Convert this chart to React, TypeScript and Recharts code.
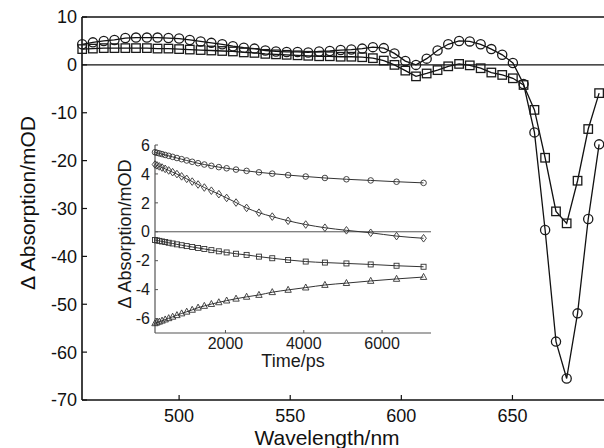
import React from 'react';
import { LineChart, Line, XAxis, YAxis, ReferenceLine } from 'recharts';

// main spectrum (wavelength in nm, signal in mOD)
const wavelengths = [
  456.4, 461.2, 466.1, 470.9, 475.8, 480.6, 485.5, 490.3, 495.2, 500.0,
  504.8, 509.7, 514.5, 519.4, 524.2, 529.1, 533.9, 538.8, 543.6, 548.4,
  553.3, 558.1, 563.0, 567.8, 572.7, 577.5, 582.4, 587.2, 592.1, 596.9,
  601.8, 606.6, 611.4, 616.3, 621.1, 626.0, 630.8, 635.7, 640.5, 645.4,
  650.2, 655.0, 659.9, 664.7, 669.6, 674.4, 679.3, 684.1, 689.0,
];
const circleSpectrum = [
  4.3, 4.7, 5.0, 5.2, 5.6, 5.7, 5.7, 5.7, 5.6, 5.5,
  5.2, 4.9, 4.6, 4.3, 3.9, 3.6, 3.4, 3.0, 2.8, 2.7,
  2.7, 2.6, 2.8, 2.9, 3.1, 3.2, 3.4, 3.7, 3.5, 2.4,
  0.8, 0.0, 1.3, 3.0, 4.3, 5.0, 4.9, 4.3, 3.3, 2.1,
  0.4, -4.0, -14.1, -34.5, -57.8, -65.5, -51.9, -32.2, -16.6,
];
const squareSpectrum = [
  3.3, 3.4, 3.5, 3.5, 3.5, 3.5, 3.5, 3.4, 3.4, 3.3,
  3.2, 3.1, 3.0, 2.9, 2.8, 2.6, 2.5, 2.3, 2.2, 2.1,
  2.0, 1.9, 1.8, 1.8, 1.7, 1.7, 1.6, 1.4, 0.9, 0.0,
  -1.2, -2.4, -1.8, -1.1, -0.3, 0.2, -0.1, -0.7, -1.6, -2.1,
  -2.8, -4.2, -9.4, -19.4, -30.6, -33.1, -24.2, -13.4, -5.9,
];
const wavelengthTicks = [500, 550, 600, 650];
const absorptionTicks = [10, 0, -10, -20, -30, -40, -50, -60, -70];

// inset kinetics (time in ps)
const delayTimes = [
  200, 250, 310, 380, 460, 550, 650, 760, 880, 1010, 1150, 1300, 1460, 1640,
  1830, 2030, 2270, 2540, 2855, 3195, 3600, 4050, 4540, 5090, 5710, 6370, 7060,
];
const circleKinetics = [
  5.5, 5.46, 5.42, 5.37, 5.31, 5.25, 5.18, 5.1, 5.02, 4.93, 4.84, 4.74, 4.65, 4.56,
  4.47, 4.39, 4.3, 4.21, 4.11, 4.02, 3.92, 3.82, 3.72, 3.63, 3.55, 3.46, 3.38,
];
const diamondKinetics = [
  4.65, 4.59, 4.52, 4.44, 4.35, 4.24, 4.12, 3.99, 3.83, 3.66, 3.47, 3.27, 3.06, 2.84,
  2.6, 2.34, 2.02, 1.65, 1.32, 1.05, 0.76, 0.5, 0.28, 0.1, -0.07, -0.3, -0.45,
];
const squareKinetics = [
  -0.57, -0.6, -0.63, -0.67, -0.71, -0.76, -0.81, -0.87, -0.93, -0.99, -1.05, -1.12, -1.19, -1.27,
  -1.35, -1.43, -1.52, -1.6, -1.72, -1.83, -1.95, -2.06, -2.13, -2.19, -2.26, -2.35, -2.42,
];
const triangleKinetics = [
  -6.33, -6.28, -6.22, -6.15, -6.07, -5.98, -5.88, -5.77, -5.65, -5.53, -5.4, -5.25, -5.13, -5.0,
  -4.88, -4.76, -4.63, -4.5, -4.37, -4.18, -4.02, -3.86, -3.68, -3.55, -3.4, -3.26, -3.13,
];
const timeTicks = [2000, 4000, 6000];
const insetTicks = [-6, -4, -2, 0, 2, 4, 6];

const spectra = wavelengths.map((wl, i) => ({
  wl,
  circle: circleSpectrum[i],
  square: squareSpectrum[i],
}));

const kinetics = delayTimes.map((t, i) => ({
  t,
  circle: circleKinetics[i],
  diamond: diamondKinetics[i],
  square: squareKinetics[i],
  triangle: triangleKinetics[i],
}));

const FONT = '"Liberation Sans", Arial, Helvetica, sans-serif';
const INK = '#111';
const INSET_INK = '#555';

// marker renderers
const circleDot = (r: number, stroke: string, sw: number) => (props: any) => {
  const { cx, cy, index } = props;
  if (cx == null || cy == null) return <g key={`c-${index}`} />;
  return <circle key={`c-${index}`} cx={cx} cy={cy} r={r} fill="none" stroke={stroke} strokeWidth={sw} />;
};

const squareDot = (s: number, stroke: string, sw: number) => (props: any) => {
  const { cx, cy, index } = props;
  if (cx == null || cy == null) return <g key={`s-${index}`} />;
  return (
    <rect key={`s-${index}`} x={cx - s / 2} y={cy - s / 2} width={s} height={s}
      fill="none" stroke={stroke} strokeWidth={sw} />
  );
};

const diamondDot = (w: number, h: number, stroke: string, sw: number) => (props: any) => {
  const { cx, cy, index } = props;
  if (cx == null || cy == null) return <g key={`d-${index}`} />;
  const pts = `${cx},${cy - h} ${cx + w},${cy} ${cx},${cy + h} ${cx - w},${cy}`;
  return <polygon key={`d-${index}`} points={pts} fill="none" stroke={stroke} strokeWidth={sw} />;
};

const triangleDot = (w: number, h: number, stroke: string, sw: number) => (props: any) => {
  const { cx, cy, index } = props;
  if (cx == null || cy == null) return <g key={`t-${index}`} />;
  const pts = `${cx},${cy - h * 0.6} ${cx + w},${cy + h * 0.4} ${cx - w},${cy + h * 0.4}`;
  return <polygon key={`t-${index}`} points={pts} fill="none" stroke={stroke} strokeWidth={sw} />;
};

const textStyle = (size: number, color: string): React.CSSProperties => ({
  position: 'absolute',
  fontFamily: FONT,
  fontSize: size,
  color,
  whiteSpace: 'nowrap',
  lineHeight: 1,
});

export default function App() {
  const mainDomain: [number, number] = [456.3, 691.2];
  const insetDomain: [number, number] = [200, 7250];

  return (
    <div style={{ position: 'absolute', left: 0, top: 0, width: 604, height: 448, overflow: 'hidden', background: '#fff' }}>
      <LineChart width={604} height={448} data={spectra} margin={{ top: 0, right: 0, bottom: 0, left: 0 }}>
        <XAxis
          xAxisId="b" dataKey="wl" type="number" domain={mainDomain} ticks={wavelengthTicks} interval={0}
          height={48} tickSize={-5} tickMargin={14}
          axisLine={{ stroke: INK, strokeWidth: 1.6 }} tickLine={{ stroke: INK, strokeWidth: 1.2 }}
          tick={{ fill: INK, fontSize: 18, fontFamily: FONT }}
        />
        <XAxis
          xAxisId="t" orientation="top" dataKey="wl" type="number" domain={mainDomain} ticks={wavelengthTicks}
          interval={0} height={17} tickSize={-5} tick={false}
          axisLine={{ stroke: INK, strokeWidth: 1.6 }} tickLine={{ stroke: INK, strokeWidth: 1.2 }}
        />
        <YAxis
          yAxisId="l" type="number" domain={[-70, 10]} ticks={absorptionTicks} interval={0}
          width={82} tickSize={-5} tickMargin={10}
          axisLine={{ stroke: INK, strokeWidth: 1.6 }} tickLine={{ stroke: INK, strokeWidth: 1.2 }}
          tick={{ fill: INK, fontSize: 18, fontFamily: FONT }}
        />
        <YAxis
          yAxisId="r" orientation="right" type="number" domain={[-70, 10]} ticks={absorptionTicks} interval={0}
          width={0} tickSize={-5} tick={false} axisLine={false}
          tickLine={{ stroke: INK, strokeWidth: 1.2 }}
        />
        <ReferenceLine xAxisId="b" yAxisId="l" y={0} stroke={INK} strokeWidth={1.3} />
        <Line
          xAxisId="b" yAxisId="l" dataKey="circle" type="linear" stroke={INK} strokeWidth={1.3}
          dot={circleDot(4.6, '#1a1a1a', 1.3)} activeDot={false} isAnimationActive={false}
        />
        <Line
          xAxisId="b" yAxisId="l" dataKey="square" type="linear" stroke={INK} strokeWidth={1.3}
          dot={squareDot(8.5, '#1a1a1a', 1.3)} activeDot={false} isAnimationActive={false}
        />
      </LineChart>

      <div style={{ position: 'absolute', left: 100, top: 135, width: 340, height: 240 }}>
        <LineChart width={340} height={240} data={kinetics} margin={{ top: 10, right: 9, bottom: 0, left: 0 }}>
          <XAxis
            xAxisId="b" dataKey="t" type="number" domain={insetDomain} ticks={timeTicks} interval={0}
            height={42} tickSize={-3} tickMargin={8}
            axisLine={{ stroke: INSET_INK, strokeWidth: 1.2 }} tickLine={{ stroke: INSET_INK }}
            tick={{ fill: '#1a1a1a', fontSize: 16, fontFamily: FONT }}
          />
          <XAxis
            xAxisId="t" orientation="top" dataKey="t" type="number" domain={insetDomain} ticks={timeTicks}
            interval={0} height={0} tickSize={-3} tick={false}
            axisLine={{ stroke: INSET_INK, strokeWidth: 1.2 }} tickLine={{ stroke: INSET_INK }}
          />
          <YAxis
            yAxisId="l" type="number" domain={[-7, 6]} ticks={insetTicks} interval={0}
            width={55} tickSize={-3} tickMargin={8}
            axisLine={{ stroke: INSET_INK, strokeWidth: 1.2 }} tickLine={{ stroke: INSET_INK }}
            tick={{ fill: '#1a1a1a', fontSize: 16, fontFamily: FONT }}
          />
          <YAxis
            yAxisId="r" orientation="right" type="number" domain={[-7, 6]} ticks={insetTicks} interval={0}
            width={0} tickSize={-3} tick={false}
            axisLine={{ stroke: INSET_INK, strokeWidth: 1.2 }} tickLine={{ stroke: INSET_INK }}
          />
          <ReferenceLine xAxisId="b" yAxisId="l" y={0} stroke={INSET_INK} strokeWidth={1} />
          <Line
            xAxisId="b" yAxisId="l" dataKey="circle" type="monotone" stroke="#333" strokeWidth={1}
            dot={circleDot(2.8, '#333', 0.9)} activeDot={false} isAnimationActive={false}
          />
          <Line
            xAxisId="b" yAxisId="l" dataKey="diamond" type="monotone" stroke="#333" strokeWidth={1}
            dot={diamondDot(2.8, 3.8, '#333', 0.9)} activeDot={false} isAnimationActive={false}
          />
          <Line
            xAxisId="b" yAxisId="l" dataKey="square" type="monotone" stroke="#333" strokeWidth={1}
            dot={squareDot(5, '#333', 0.9)} activeDot={false} isAnimationActive={false}
          />
          <Line
            xAxisId="b" yAxisId="l" dataKey="triangle" type="monotone" stroke="#333" strokeWidth={1}
            dot={triangleDot(3.2, 6, '#333', 0.9)} activeDot={false} isAnimationActive={false}
          />
        </LineChart>
      </div>

      {/* axis titles */}
      <div style={{ ...textStyle(21, INK), left: 27, top: 203, transform: 'translate(-50%, -50%) rotate(-90deg)' }}>
        Δ Absorption/mOD
      </div>
      <div style={{ ...textStyle(21, INK), left: 327, top: 437, transform: 'translate(-50%, -50%)' }}>
        Wavelength/nm
      </div>
      <div style={{ ...textStyle(18, '#1a1a1a'), left: 125, top: 234, transform: 'translate(-50%, -50%) rotate(-90deg)' }}>
        Δ Absorption/mOD
      </div>
      <div style={{ ...textStyle(18, '#1a1a1a'), left: 293, top: 361, transform: 'translate(-50%, -50%)' }}>
        Time/ps
      </div>
    </div>
  );
}
